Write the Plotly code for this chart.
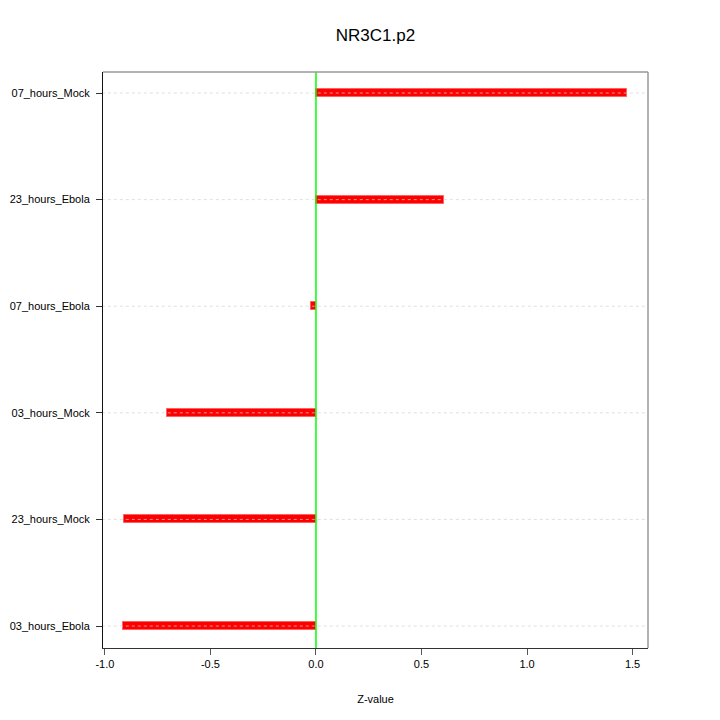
import plotly.graph_objects as go

categories = ["03_hours_Ebola", "23_hours_Mock", "03_hours_Mock", "07_hours_Ebola", "23_hours_Ebola", "07_hours_Mock"]
zvalues = [-0.915, -0.91, -0.706, -0.024, 0.607, 1.474]
x_ticks = [-1.0, -0.5, 0.0, 0.5, 1.0, 1.5]
x_tick_labels = ["-1.0", "-0.5", "0.0", "0.5", "1.0", "1.5"]

ypos = list(range(1, len(categories) + 1))
font = "Liberation Sans, Arial, Helvetica, sans-serif"

fig = go.Figure()
fig.add_trace(go.Bar(
    x=zvalues, y=ypos, orientation="h", width=0.075,
    marker=dict(color="#FF0000", line=dict(color="#FF6060", width=1)),
    showlegend=False, hoverinfo="x+y",
))
# dotted grid lines drawn over the bars
for y in ypos:
    fig.add_trace(go.Scatter(
        x=[-1.1, 1.7], y=[y, y], mode="lines",
        line=dict(color="rgba(210,210,210,0.9)", width=0.8, dash="dot"),
        showlegend=False, hoverinfo="skip",
    ))
# zero line
fig.add_trace(go.Scatter(
    x=[0, 0], y=[0.7, 6.3], mode="lines",
    line=dict(color="#00FF00", width=1.5),
    showlegend=False, hoverinfo="skip",
))

L, R, T, B = 95, 80, 64, 80
fig.update_layout(
    width=720, height=720,
    margin=dict(l=L, r=R, t=T, b=B, autoexpand=False),
    paper_bgcolor="white", plot_bgcolor="white",
    font=dict(family=font, size=11, color="black"),
    title=dict(text="NR3C1.p2", x=(L + 720 - R) / 2 / 720, xanchor="center",
               y=1 - 27 / 720, yanchor="middle", font=dict(size=17, color="black")),
    bargap=0,
)
fig.update_xaxes(
    range=[-1.009, 1.573], tickmode="array", tickvals=x_ticks, ticktext=x_tick_labels,
    showgrid=False, zeroline=False, showline=True, linecolor="#333333", linewidth=1,
    ticks="outside", ticklen=6, tickcolor="#555555", automargin=False,
    title=dict(text="Z-value", font=dict(size=11), standoff=26),
)
fig.update_yaxes(
    range=[0.794, 6.197], tickmode="array", tickvals=ypos, ticktext=categories,
    showgrid=False, zeroline=False, showline=True, linecolor="#111111", linewidth=1,
    ticks="outside", ticklen=6, tickcolor="#333333", automargin=False,
    ticklabelstandoff=4,
    tickfont=dict(size=11),
)
# top and right border in gray
fig.add_shape(type="line", xref="paper", yref="paper", x0=0, x1=1, y0=1, y1=1,
              line=dict(color="#999999", width=1.5))
fig.add_shape(type="line", xref="paper", yref="paper", x0=1, x1=1, y0=0, y1=1,
              line=dict(color="#999999", width=1.5))

fig.write_html("out.html")
